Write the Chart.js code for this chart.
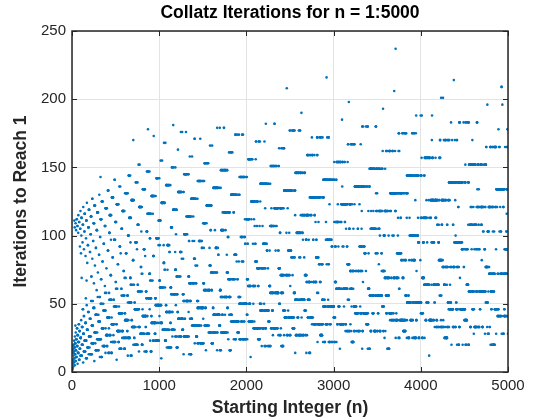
<!DOCTYPE html>
<html>
<head>
<meta charset="utf-8">
<script src="https://cdn.jsdelivr.net/npm/chart.js@4"></script>
<style>
  html, body { margin: 0; padding: 0; background: #fff; }
  #wrap { width: 560px; height: 420px; }
</style>
</head>
<body>
<div id="wrap"><canvas id="chart" width="560" height="420"></canvas></div>
<script>
// starting integers n = 1:5000 and the number of Collatz steps each needs to reach 1
const firstN = 1
const lastN = 5000
const xTicks = [0, 1000, 2000, 3000, 4000, 5000]
const yTicks = [0, 50, 100, 150, 200, 250]

const startInts = []
const iterations = []
for (let n = firstN; n <= lastN; n++) {
  let v = n, steps = 0
  while (v !== 1) {
    v = (v % 2 === 0) ? v / 2 : 3 * v + 1
    steps++
  }
  startInts.push(n)
  iterations.push(steps)
}

const points = startInts.map((n, i) => ({ x: n, y: iterations[i] }))

const fontFamily = '"Liberation Sans", Arial, Helvetica, sans-serif'
const inkColor = '#262626'

// MATLAB style box with inward ticks, title centred over the axes
const boxPlugin = {
  id: 'box',
  afterLayout(chart) {
    const a = chart.chartArea
    if (chart.titleBlock) {
      chart.titleBlock.left = a.left
      chart.titleBlock.right = a.right
    }
  },
  afterDraw(chart) {
    const { ctx, chartArea: a, scales } = chart
    ctx.save()
    ctx.strokeStyle = inkColor
    ctx.lineWidth = 1
    ctx.beginPath()
    xTicks.forEach(t => {
      const px = Math.round(scales.x.getPixelForValue(t)) + 0.5
      ctx.moveTo(px, a.bottom); ctx.lineTo(px, a.bottom - 5)
      ctx.moveTo(px, a.top); ctx.lineTo(px, a.top + 5)
    })
    yTicks.forEach(t => {
      const py = Math.round(scales.y.getPixelForValue(t)) + 0.5
      ctx.moveTo(a.left, py); ctx.lineTo(a.left + 5, py)
      ctx.moveTo(a.right, py); ctx.lineTo(a.right - 5, py)
    })
    ctx.stroke()
    ctx.lineWidth = 1.5
    ctx.strokeRect(a.left, a.top, a.right - a.left, a.bottom - a.top)
    ctx.restore()
  }
}

new Chart(document.getElementById('chart'), {
  type: 'scatter',
  data: {
    datasets: [{
      label: 'iterations',
      data: points,
      backgroundColor: '#0072BD',
      borderWidth: 0,
      pointRadius: 1.3,
      pointHoverRadius: 1.3
    }]
  },
  options: {
    responsive: false,
    animation: false,
    events: [],
    layout: { padding: { left: 0, right: 52, top: 0, bottom: 0 } },
    plugins: {
      legend: { display: false },
      tooltip: { enabled: false },
      title: {
        display: true,
        text: 'Collatz Iterations for n = 1:5000',
        color: '#000',
        font: { family: fontFamily, size: 17.5, weight: 'bold' },
        padding: { top: 3, bottom: 7 }
      }
    },
    scales: {
      x: {
        type: 'linear',
        min: 0,
        max: 5000,
        afterBuildTicks: s => { s.ticks = xTicks.map(v => ({ value: v })) },
        afterFit: s => { s.height = 48 },
        grid: { color: '#e3e3e3', drawTicks: false },
        border: { display: false },
        ticks: {
          color: inkColor, padding: 5, maxRotation: 0,
          font: { family: fontFamily, size: 15 },
          callback: v => String(v)
        },
        title: {
          display: true,
          text: 'Starting Integer (n)',
          color: inkColor,
          font: { family: fontFamily, size: 17.5, weight: 'bold' },
          padding: { top: 0, bottom: 1 }
        }
      },
      y: {
        type: 'linear',
        min: 0,
        max: 250,
        afterBuildTicks: s => { s.ticks = yTicks.map(v => ({ value: v })) },
        afterFit: s => { s.width = 72 },
        grid: { color: '#e3e3e3', drawTicks: false },
        border: { display: false },
        ticks: {
          color: inkColor, padding: 6,
          font: { family: fontFamily, size: 15 },
          callback: v => String(v)
        },
        title: {
          display: true,
          text: 'Iterations to Reach 1',
          color: inkColor,
          font: { family: fontFamily, size: 17.5, weight: 'bold' },
          padding: { top: 11, bottom: 0 }
        }
      }
    }
  },
  plugins: [boxPlugin]
})
</script>
</body>
</html>
